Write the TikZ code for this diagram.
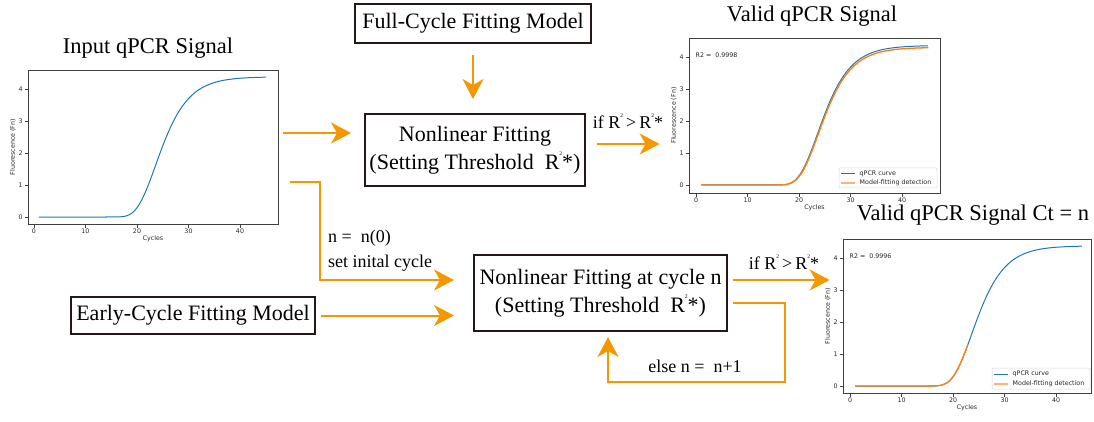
\documentclass[tikz,border=0pt]{standalone}
\usepackage{fontspec}
\setmainfont{Liberation Serif}
\newfontfamily\plotfont{DejaVu Sans}
\usetikzlibrary{arrows.meta}
\definecolor{arrorange}{RGB}{243,152,0}
\definecolor{boxline}{RGB}{35,24,21}
\definecolor{mplblue}{RGB}{31,119,180}
\definecolor{mplorange}{RGB}{255,127,14}
\definecolor{legorange}{RGB}{255,178,120}
\newcommand\rsq{R\raisebox{0.62em}{\fontsize{5.5}{5.5}\selectfont 2}}
% Gompertz-like amplification curve: #1 style, #2 plateau, #3 end cycle
\newcommand\sigcurve[3]{\draw[#1] (1,0) -- (14,0) -- plot[domain=14:#3, samples=70, smooth] (\x,{#2*exp(-exp(-(\x-23.6)/3.6))});}
\newcommand\qaxes[7]{% name, left, top, right, bottom, x0, y0
  \node[plotframe, minimum width={(#4-#2)*1pt}, minimum height={(#5-#3)*1pt}] (#1) at ({(#2+#4)/2},{(#3+#5)/2}) {};
  \foreach \i in {0,...,4} {\draw[tickline] (#2,{#7-32*\i}) -- ++(-3.5,0) node[left, ticklbl] {\i};}
  \foreach \c in {0,10,...,40} {\draw[tickline] ({#6+5.15*\c},#5) -- ++(0,3.5) node[below, ticklbl] {\c};}
  \node[ticklbl] at ({(#2+#4)/2},{#5+15}) {Cycles};
  \node[ticklbl, rotate=90] at ({#2-15},{(#3+#5)/2}) {Fluorescence (Fn)};
}
\begin{document}
\begin{tikzpicture}[x=1pt,y=-1pt,
  arr/.style={draw=arrorange, line width=2pt, -{Stealth[length=20pt,width=21pt,inset=6pt]}},
  box/.style={draw=boxline, line width=2pt, inner sep=0pt, align=center, font=\fontsize{22}{28}\selectfont},
  lbl/.style={font=\fontsize{18}{21}\selectfont, inner sep=0pt},
  ttl/.style={font=\fontsize{22.5}{26}\selectfont, inner sep=0pt},
  plotframe/.style={draw=black!75, line width=0.8pt, inner sep=0pt},
  tickline/.style={draw=black!75, line width=0.6pt},
  ticklbl/.style={font=\plotfont\fontsize{6.3}{7.5}\selectfont, inner sep=1.5pt, text=black!85},
  blue curve/.style={draw=mplblue, line width=1pt},
  orange curve/.style={draw=mplorange, line width=1.3pt},
]
\useasboundingbox (0,0) rectangle (1094,422);

% ---------- plots ----------
\qaxes{p1}{28}{70}{278}{224}{34}{217}
\begin{scope}[xshift=34pt, yshift=-217pt, x=5.15pt, y=32pt]
  \sigcurve{blue curve}{4.38}{45}
\end{scope}

\qaxes{p2}{689}{38}{940}{193}{696}{185}
\begin{scope}[xshift=696pt, yshift=-185pt, x=5.15pt, y=32pt]
  \sigcurve{blue curve}{4.36}{45}
  \begin{scope}[xshift=0.6pt]
    \sigcurve{orange curve}{4.30}{45}
  \end{scope}
\end{scope}
\node[ticklbl, anchor=west] (r2a) at (694,55) {R2 =\ \ 0.9998};
\draw[draw=black!15, fill=white, line width=0.5pt, rounded corners=1pt] (839,168) rectangle (937,188);
\draw[draw=mplblue, line width=1pt] (841,173.5) -- (855,173.5);
\draw[draw=legorange, line width=1.6pt] (841,183) -- (855,183);
\node[ticklbl, anchor=west] (lg2a) at (858,173.5) {qPCR curve};
\node[ticklbl, anchor=west] (lg2b) at (858,183) {Model-fitting detection};

\qaxes{p3}{843}{239}{1091}{393}{850}{386}
\begin{scope}[xshift=850pt, yshift=-386pt, x=5.15pt, y=32pt]
  \sigcurve{blue curve}{4.38}{45}
  \sigcurve{orange curve}{4.38}{22.9}
\end{scope}
\node[ticklbl, anchor=west] (r2b) at (848,256) {R2 =\ \ 0.9996};
\draw[draw=black!15, fill=white, line width=0.5pt, rounded corners=1pt] (992,368) rectangle (1090,389);
\draw[draw=mplblue, line width=1pt] (994,374) -- (1008,374);
\draw[draw=legorange, line width=1.6pt] (994,384) -- (1008,384);
\node[ticklbl, anchor=west] (lg3a) at (1011,374) {qPCR curve};
\node[ticklbl, anchor=west] (lg3b) at (1011,384) {Model-fitting detection};

% ---------- titles ----------
\node[ttl] (t1) at (148,48) {Input qPCR Signal};
\node[ttl] (t2) at (812,16) {Valid qPCR Signal};
\node[ttl] (t3) at (973,215) {Valid qPCR Signal Ct = n};

% ---------- boxes ----------
\node[box, minimum width=236pt, minimum height=39pt] (full) at (473,23.5) {Full-Cycle Fitting Model};
\node[box, minimum width=220pt, minimum height=72pt] (nf) at (475,150) {Nonlinear Fitting\\(Setting Threshold\ \ \rsq*)};
\node[box, minimum width=244pt, minimum height=37pt] (early) at (193,315.5) {Early-Cycle Fitting Model};
\node[box, minimum width=253pt, minimum height=76pt] (nfn) at (600.5,293) {Nonlinear Fitting at cycle n\\(Setting Threshold\ \ \rsq*)};

% ---------- connector end points ----------
\coordinate (s1) at (283,133);
\coordinate (s2) at (597,144);
\coordinate (s3) at (290,182);
\coordinate (b3) at (320,182);
\coordinate (c3) at (320,280);
\coordinate (s5) at (733,280);
\coordinate (s6) at (733,303);
\coordinate (b6) at (785,303);
\coordinate (c6) at (785,382);
\coordinate (d6) at (608,382);

% ---------- connectors ----------
\draw[arr] (473,55) -- ([yshift=14pt]full.south |- nf.north);
\draw[arr] (s1) -- ([xshift=-13pt]nf.west |- s1);
\draw[arr] (s2) -- ([xshift=-29pt]p2.west |- s2);
\draw[arr] (s3) -- (b3) -- (c3) -- ([xshift=-19pt]nfn.west |- c3);
\draw[arr] ([xshift=5pt]early.east) -- ([xshift=-19pt]nfn.west |- early.east);
\draw[arr] (s5) -- ([xshift=-13pt]p3.west |- s5);
\draw[arr] (s6) -- (b6) -- (c6) -- (d6) -- ([yshift=-5pt]d6 |- nfn.south);

% ---------- labels ----------
\node[lbl] (l1) at (628,121) {if \rsq\,>\,\rsq*};
\node[lbl, anchor=west] (l2) at (328,238) {n =\ \ n(0)};
\node[lbl, anchor=west] (l3) at (328,263) {set inital cycle};
\node[lbl] (l4) at (784,262) {if \rsq\,>\,\rsq*};
\node[lbl] (l5) at (695,366) {else n =\ \ n+1};
\end{tikzpicture}
\end{document}
